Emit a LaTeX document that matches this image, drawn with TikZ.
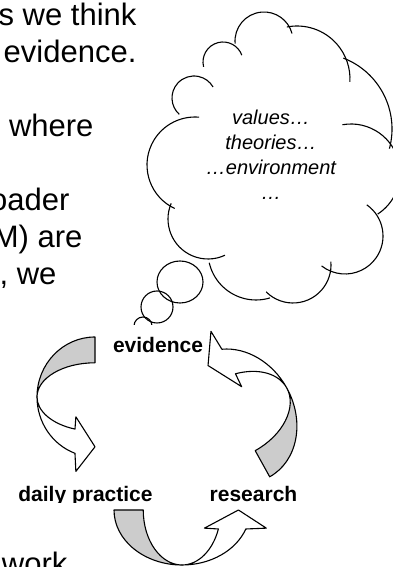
\documentclass[tikz,border=0pt]{standalone}
\usepackage{fontspec}
\setmainfont{Liberation Sans}
\usepackage{tikz}

\begin{document}
\begin{tikzpicture}[x=1pt, y=1pt, line width=1.1pt, line join=round]
        \useasboundingbox (0,0) rectangle (393,567);
        \clip (0,0) rectangle (393,567);
        \node[anchor=base east, inner sep=0pt, font=\fontsize{31}{37}\selectfont] (line1) at (137,541) {s we think};
        \node[anchor=base east, inner sep=0pt, font=\fontsize{31}{37}\selectfont] (line2) at (137,504) {evidence.};
        \node[anchor=base east, inner sep=0pt, font=\fontsize{31}{37}\selectfont] (line3) at (94,430) {where};
        \node[anchor=base east, inner sep=0pt, font=\fontsize{31}{37}\selectfont] (line4) at (70,356) {oader};
        \node[anchor=base east, inner sep=0pt, font=\fontsize{31}{37}\selectfont] (line5) at (83,319) {M) are};
        \node[anchor=base east, inner sep=0pt, font=\fontsize{31}{37}\selectfont] (line6) at (57,282) {, we};
        \node[anchor=base east, inner sep=0pt, font=\fontsize{31}{37}\selectfont] (line7) at (68,-7) {work};
        \draw (195,402) ++(245:48) arc[start angle=245, end angle=85, radius=48];
        \draw (194,469) ++(228:22) arc[start angle=228, end angle=30, radius=22];
        \draw (223,505) ++(194:20) arc[start angle=194, end angle=20, radius=20];
        \draw (264,526) ++(185:29) arc[start angle=185, end angle=15, radius=29];
        \draw (297,488) ++(101:53) arc[start angle=101, end angle=-3, radius=53];
        \draw (316,438) ++(69:76) arc[start angle=69, end angle=-15, radius=76];
        \draw (351,394) ++(100:49) arc[start angle=100, end angle=-57, radius=49];
        \draw (345,331) ++(55:38) arc[start angle=55, end angle=-128, radius=38];
        \draw (293,302) ++(5:38) arc[start angle=5, end angle=-135, radius=38];
        \draw (256,315) ++(193:48) arc[start angle=193, end angle=287, radius=48];
        \draw (208,348) ++(157:40) arc[start angle=157, end angle=295, radius=40];
        \draw (180,285) ellipse[x radius=23, y radius=21];
        \draw (157,260) circle[radius=16];
        \begin{scope}
            \clip (120,242) rectangle (170,260);
            \draw (143,241) circle[radius=9];
        \end{scope}
        \node[anchor=north, inner sep=0pt, align=center, font=\itshape\fontsize{20}{25}\selectfont] (thoughts) at (271,458) {values…\\theories…\\…environment\\…};
        \node[anchor=base, inner sep=0pt, font=\bfseries\fontsize{21}{25}\selectfont] (evidence) at (158,214) {evidence};
        \begin{scope}
            \clip (0,64.5) rectangle (180,100);
            \node[anchor=base, inner sep=0pt, font=\bfseries\fontsize{21}{25}\selectfont] (practice) at (85.5,65) {daily practice};
        \end{scope}
        \node[anchor=base, inner sep=0pt, font=\bfseries\fontsize{21}{25}\selectfont] (research) at (253.5,65) {research};
        \begin{scope}[shift={(95,170)}, xscale=58, yscale=60]
            \filldraw[fill=black!20] (0,1) arc[start angle=90, end angle=180, radius=1] arc[start angle=180, end angle=90, x radius=1, y radius=0.57] -- cycle;
            \filldraw[fill=white] (-1,0) arc[start angle=180, end angle=249.8, radius=1] -- (-0.33,-1.24) -- (0,-0.83) -- (-0.33,-0.33) -- (-0.345,-0.535) arc[start angle=249.8, end angle=180, x radius=1, y radius=0.57] -- cycle;
        \end{scope}
        \begin{scope}[shift={(236,151)}, rotate=-151, xscale=58, yscale=69.5]
            \filldraw[fill=black!20] (0,1) arc[start angle=90, end angle=180, radius=1] arc[start angle=180, end angle=90, x radius=1, y radius=0.57] -- cycle;
            \filldraw[fill=white] (-1,0) arc[start angle=180, end angle=249.8, radius=1] -- (-0.33,-1.24) -- (0,-0.83) -- (-0.33,-0.33) -- (-0.345,-0.535) arc[start angle=249.8, end angle=180, x radius=1, y radius=0.57] -- cycle;
        \end{scope}
        \begin{scope}[shift={(182,57)}, rotate=90, xscale=55, yscale=68]
            \filldraw[fill=black!20] (0,1) arc[start angle=90, end angle=180, radius=1] arc[start angle=180, end angle=90, x radius=1, y radius=0.57] -- cycle;
            \filldraw[fill=white] (-1,0) arc[start angle=180, end angle=249.8, radius=1] -- (-0.33,-1.24) -- (0,-0.83) -- (-0.33,-0.33) -- (-0.345,-0.535) arc[start angle=249.8, end angle=180, x radius=1, y radius=0.57] -- cycle;
        \end{scope}
    \end{tikzpicture}
\end{document}
